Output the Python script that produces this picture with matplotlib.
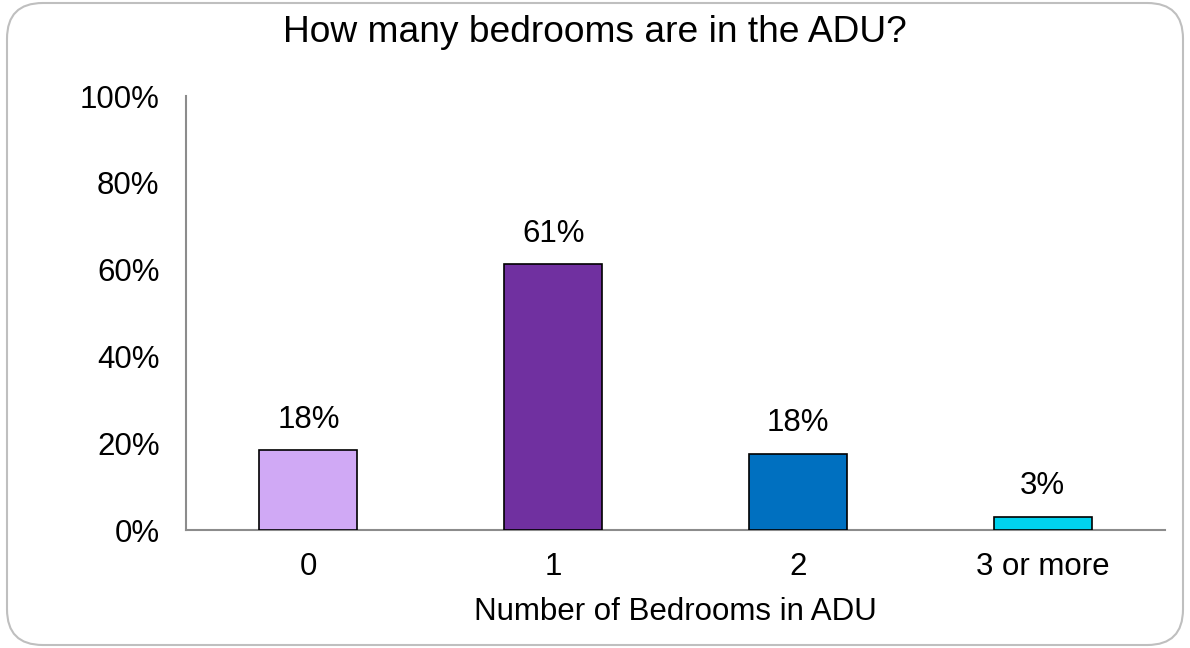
import matplotlib
matplotlib.use("Agg")
import matplotlib.pyplot as plt
from matplotlib.patches import FancyBboxPatch
from matplotlib.ticker import PercentFormatter

categories = ["0", "1", "2", "3 or more"]
values = [18.4, 61.2, 17.6, 3.1]
colors = ["#D0A9F5", "#7030A0", "#0070C0", "#00D2EE"]
yticks = [0, 20, 40, 60, 80, 100]

plt.rcParams['font.family'] = ['Liberation Sans', 'DejaVu Sans']
FS = 22.5

fig = plt.figure(figsize=(11.9, 6.48), dpi=100)
frame = FancyBboxPatch((7/1190, 3/648), 1176/1190, 642/648,
                       boxstyle="round,pad=0,rounding_size=0.03",
                       transform=fig.transFigure, facecolor="none",
                       edgecolor="#BFBFBF", linewidth=1.5, mutation_aspect=1190/648,
                       zorder=-1)
fig.patches.append(frame)

ax = fig.add_axes([186/1190, 1 - 530/648, (1165 - 186)/1190, (530 - 96)/648])
ax.set_facecolor("none")
x = list(range(len(categories)))
bars = ax.bar(x, values, width=0.4, color=colors, edgecolor="black", linewidth=1.2, zorder=3)
for xi, v in zip(x, values):
    ax.annotate(f"{round(v)}%", (xi, v), xytext=(0, 11), textcoords="offset points",
                ha="center", va="bottom", fontsize=FS)

ax.set_xlim(-0.5, 3.5)
ax.set_ylim(0, 100)
ax.set_yticks(yticks)
ax.yaxis.set_major_formatter(PercentFormatter(decimals=0))
ax.set_xticks(x)
ax.set_xticklabels(categories)
ax.tick_params(axis="both", length=0, labelsize=FS)
ax.tick_params(axis="x", pad=16)
ax.tick_params(axis="y", pad=19)
for s in ["top", "right"]:
    ax.spines[s].set_visible(False)
for s in ["left", "bottom"]:
    ax.spines[s].set_color("#8C8C8C")
    ax.spines[s].set_linewidth(1.5)
ax.set_xlabel("Number of Bedrooms in ADU", fontsize=FS, labelpad=11)
fig.text(0.5, 1 - 32/648, "How many bedrooms are in the ADU?", ha="center", va="center", fontsize=26.7)

fig.savefig("out.png", dpi=100)
